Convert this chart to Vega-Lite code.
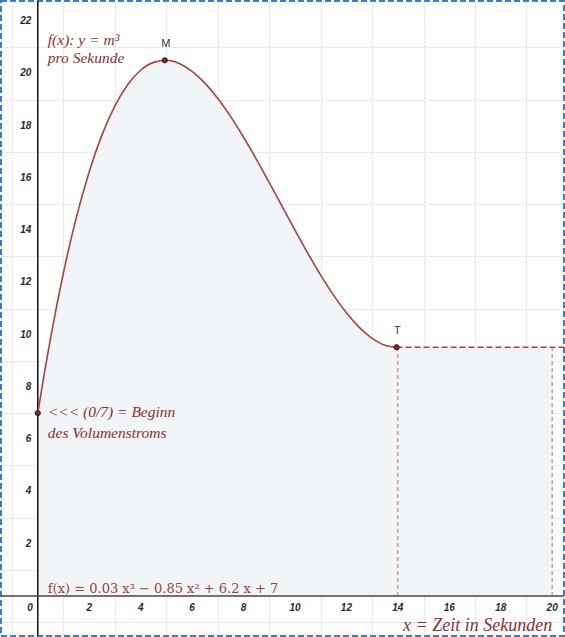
{
  "$schema": "https://vega.github.io/schema/vega-lite/v6.json",
  "width": 565,
  "height": 637,
  "padding": 0,
  "autosize": {"type": "fit", "contains": "padding"},
  "background": "#ffffff",
  "config": {
    "view": {"stroke": "#3a7cc8", "strokeWidth": 2, "strokeDash": [6, 3]}
  },
  "datasets": {
    "curve": [
      {"x": 0, "y": 7}, {"x": 0.25, "y": 8.497}, {"x": 0.5, "y": 9.891}, {"x": 0.75, "y": 11.185},
      {"x": 1, "y": 12.38}, {"x": 1.5, "y": 14.489}, {"x": 2, "y": 16.24}, {"x": 2.5, "y": 17.656},
      {"x": 3, "y": 18.76}, {"x": 3.5, "y": 19.574}, {"x": 4, "y": 20.12}, {"x": 4.5, "y": 20.421},
      {"x": 5, "y": 20.5}, {"x": 5.5, "y": 20.379}, {"x": 6, "y": 20.08}, {"x": 6.5, "y": 19.626},
      {"x": 7, "y": 19.04}, {"x": 7.5, "y": 18.344}, {"x": 8, "y": 17.56}, {"x": 8.5, "y": 16.711},
      {"x": 9, "y": 15.82}, {"x": 9.5, "y": 14.909}, {"x": 10, "y": 14}, {"x": 10.5, "y": 13.116},
      {"x": 11, "y": 12.28}, {"x": 11.5, "y": 11.514}, {"x": 12, "y": 10.84}, {"x": 12.5, "y": 10.281},
      {"x": 13, "y": 9.86}, {"x": 13.5, "y": 9.599}, {"x": 14, "y": 9.52}
    ],
    "fill": [
      {"x": 0, "y": 7}, {"x": 0.25, "y": 8.497}, {"x": 0.5, "y": 9.891}, {"x": 0.75, "y": 11.185},
      {"x": 1, "y": 12.38}, {"x": 1.5, "y": 14.489}, {"x": 2, "y": 16.24}, {"x": 2.5, "y": 17.656},
      {"x": 3, "y": 18.76}, {"x": 3.5, "y": 19.574}, {"x": 4, "y": 20.12}, {"x": 4.5, "y": 20.421},
      {"x": 5, "y": 20.5}, {"x": 5.5, "y": 20.379}, {"x": 6, "y": 20.08}, {"x": 6.5, "y": 19.626},
      {"x": 7, "y": 19.04}, {"x": 7.5, "y": 18.344}, {"x": 8, "y": 17.56}, {"x": 8.5, "y": 16.711},
      {"x": 9, "y": 15.82}, {"x": 9.5, "y": 14.909}, {"x": 10, "y": 14}, {"x": 10.5, "y": 13.116},
      {"x": 11, "y": 12.28}, {"x": 11.5, "y": 11.514}, {"x": 12, "y": 10.84}, {"x": 12.5, "y": 10.281},
      {"x": 13, "y": 9.86}, {"x": 13.5, "y": 9.599}, {"x": 14, "y": 9.52}, {"x": 20, "y": 9.52}
    ],
    "points": [
      {"x": 0, "y": 7}, {"x": 4.94, "y": 20.5}, {"x": 13.95, "y": 9.52}
    ],
    "pointLabels": [
      {"x": 4.98, "y": 20.95, "t": "M"}, {"x": 13.98, "y": 9.95, "t": "T"}
    ],
    "xticks": [
      {"v": 0, "x": -0.3, "t": "0"}, {"v": 2, "x": 2, "t": "2"}, {"v": 4, "x": 4, "t": "4"},
      {"v": 6, "x": 6, "t": "6"}, {"v": 8, "x": 8, "t": "8"}, {"v": 10, "x": 10, "t": "10"},
      {"v": 12, "x": 12, "t": "12"}, {"v": 14, "x": 14, "t": "14"}, {"v": 16, "x": 16, "t": "16"},
      {"v": 18, "x": 18, "t": "18"}, {"v": 20, "x": 20, "t": "20"}
    ],
    "yticks": [
      {"y": 2, "t": "2"}, {"y": 4, "t": "4"}, {"y": 6, "t": "6"}, {"y": 8, "t": "8"},
      {"y": 10, "t": "10"}, {"y": 12, "t": "12"}, {"y": 14, "t": "14"}, {"y": 16, "t": "16"},
      {"y": 18, "t": "18"}, {"y": 20, "t": "20"}, {"y": 22, "t": "22"}
    ],
    "hdash": [{"x": 13.95, "x2": 20.46, "y": 9.52}],
    "vdash": [{"x": 14, "y": 0, "y2": 9.52}, {"x": 20, "y": 0, "y2": 9.52}],
    "notes": [
      {"x": 0.39, "y": 21.26, "t": "f(x): y = m³"},
      {"x": 0.39, "y": 20.57, "t": "pro Sekunde"},
      {"x": 0.39, "y": 7.06, "t": "<<< (0/7) = Beginn"},
      {"x": 0.39, "y": 6.22, "t": "des Volumenstroms"}
    ],
    "formula": [{"x": 0.39, "y": 0.27, "t": "f(x)  =  0.03 x³ − 0.85 x² + 6.2 x + 7"}],
    "xtitle": [{"x": 20, "y": -1.15, "t": "x = Zeit in Sekunden"}]
  },
  "layer": [
    {
      "data": {"name": "fill"},
      "mark": {"type": "area", "color": "#f1f5f7", "interpolate": "monotone"},
      "encoding": {
        "x": {
          "field": "x", "type": "quantitative",
          "scale": {"domain": [-1.43, 20.46], "nice": false, "zero": false},
          "axis": {
            "values": [-1, 0, 1, 2, 3, 4, 5, 6, 7, 8, 9, 10, 11, 12, 13, 14, 15, 16, 17, 18, 19, 20],
            "grid": true, "gridColor": "#cfcfcf", "gridDash": [2, 2], "gridWidth": 0.8,
            "labels": false, "ticks": false, "domain": false, "title": null
          }
        },
        "y": {
          "field": "y", "type": "quantitative",
          "scale": {"domain": [-1.53, 22.77], "nice": false, "zero": false},
          "axis": {
            "values": [-1, 0, 1, 2, 3, 4, 5, 6, 7, 8, 9, 10, 11, 12, 13, 14, 15, 16, 17, 18, 19, 20, 21, 22],
            "grid": true, "gridColor": "#cfcfcf", "gridDash": [2, 2], "gridWidth": 0.8,
            "labels": false, "ticks": false, "domain": false, "title": null
          }
        },
        "y2": {"datum": 0}
      }
    },
    {
      "data": {"values": [{"x": 0}]},
      "mark": {"type": "rule", "color": "#111111", "strokeWidth": 1.5},
      "encoding": {"x": {"field": "x", "type": "quantitative"}}
    },
    {
      "data": {"values": [{"y": 0}]},
      "mark": {"type": "rule", "color": "#444444", "strokeWidth": 1.3},
      "encoding": {"y": {"field": "y", "type": "quantitative"}}
    },
    {
      "data": {"name": "hdash"},
      "mark": {"type": "rule", "color": "#a8423c", "strokeWidth": 1.3, "strokeDash": [6, 3]},
      "encoding": {
        "x": {"field": "x", "type": "quantitative"},
        "x2": {"field": "x2"},
        "y": {"field": "y", "type": "quantitative"}
      }
    },
    {
      "data": {"name": "vdash"},
      "mark": {"type": "rule", "color": "#b25a55", "strokeWidth": 0.9, "strokeDash": [4, 3]},
      "encoding": {
        "x": {"field": "x", "type": "quantitative"},
        "y": {"field": "y", "type": "quantitative"},
        "y2": {"field": "y2"}
      }
    },
    {
      "data": {"name": "curve"},
      "mark": {"type": "line", "color": "#a8423c", "strokeWidth": 1.6, "interpolate": "monotone"},
      "encoding": {
        "x": {"field": "x", "type": "quantitative"},
        "y": {"field": "y", "type": "quantitative"}
      }
    },
    {
      "data": {"name": "points"},
      "mark": {"type": "point", "filled": true, "size": 28, "color": "#7a2a2a", "stroke": "#3a1010", "strokeWidth": 0.8, "opacity": 1},
      "encoding": {
        "x": {"field": "x", "type": "quantitative"},
        "y": {"field": "y", "type": "quantitative"}
      }
    },
    {
      "data": {"name": "pointLabels"},
      "mark": {"type": "text", "font": "Liberation Sans", "fontSize": 11, "color": "#4a3030", "baseline": "bottom"},
      "encoding": {
        "x": {"field": "x", "type": "quantitative"},
        "y": {"field": "y", "type": "quantitative"},
        "text": {"field": "t"}
      }
    },
    {
      "data": {"name": "xticks"},
      "mark": {"type": "text", "font": "Liberation Sans", "fontSize": 10, "fontStyle": "italic", "fontWeight": "bold", "color": "#2a2a2a", "baseline": "middle"},
      "encoding": {
        "x": {"field": "x", "type": "quantitative"},
        "y": {"datum": -0.45},
        "text": {"field": "t"}
      }
    },
    {
      "data": {"name": "yticks"},
      "mark": {"type": "text", "font": "Liberation Sans", "fontSize": 10, "fontStyle": "italic", "fontWeight": "bold", "color": "#2a2a2a", "baseline": "middle", "align": "right"},
      "encoding": {
        "x": {"datum": -0.25},
        "y": {"field": "y", "type": "quantitative"},
        "text": {"field": "t"}
      }
    },
    {
      "data": {"name": "notes"},
      "mark": {"type": "text", "font": "Liberation Serif", "fontSize": 15.5, "fontStyle": "italic", "color": "#8b2f2f", "align": "left", "baseline": "middle"},
      "encoding": {
        "x": {"field": "x", "type": "quantitative"},
        "y": {"field": "y", "type": "quantitative"},
        "text": {"field": "t"}
      }
    },
    {
      "data": {"name": "formula"},
      "mark": {"type": "text", "font": "DejaVu Serif", "fontSize": 13, "color": "#9b4040", "align": "left", "baseline": "middle"},
      "encoding": {
        "x": {"field": "x", "type": "quantitative"},
        "y": {"field": "y", "type": "quantitative"},
        "text": {"field": "t"}
      }
    },
    {
      "data": {"name": "xtitle"},
      "mark": {"type": "text", "font": "Liberation Serif", "fontSize": 18, "fontStyle": "italic", "color": "#8b2f2f", "align": "right", "baseline": "middle"},
      "encoding": {
        "x": {"field": "x", "type": "quantitative"},
        "y": {"field": "y", "type": "quantitative"},
        "text": {"field": "t"}
      }
    }
  ]
}
